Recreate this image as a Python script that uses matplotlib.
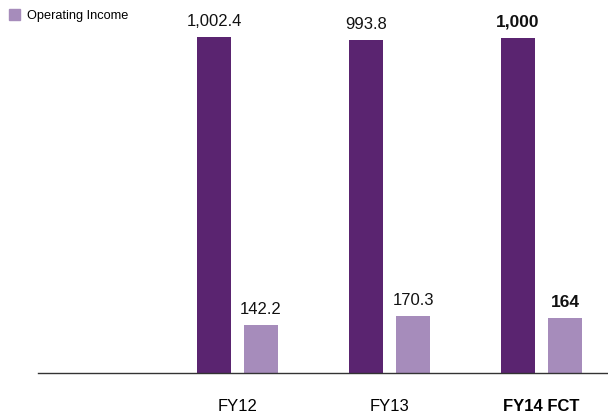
import matplotlib

matplotlib.use("Agg")
import matplotlib.pyplot as plt
from matplotlib.patches import Patch

plt.rcParams["font.family"] = ["Liberation Sans", "DejaVu Sans"]

years = ["FY12", "FY13", "FY14 FCT"]
net_sales = [1002.4, 993.8, 1000]
operating_income = [142.2, 170.3, 164]
sales_labels = ["1,002.4", "993.8", "1,000"]
income_labels = ["142.2", "170.3", "164"]
forecast = [False, False, True]

DARK = "#5a2470"
LIGHT = "#a68cbb"


def plot_bars():
    fig = plt.figure(figsize=(6.08, 4.17), dpi=100)
    ax = fig.add_axes([38 / 608, 44 / 417, 570 / 608, 373 / 417])
    xs = [1, 2, 3]
    width = 0.224
    offset = 0.155
    ax.bar([x - offset for x in xs], net_sales, width, color=DARK)
    ax.bar([x + offset for x in xs], operating_income, width, color=LIGHT)

    for x, v, lab, bold in zip(xs, net_sales, sales_labels, forecast):
        ax.annotate(lab, (x - offset, v), xytext=(0, 6), textcoords="offset points",
                    ha="center", va="bottom", fontsize=12.5 if bold else 12,
                    fontweight="bold" if bold else "normal", color="#111111")
    for x, v, lab, bold in zip(xs, operating_income, income_labels, forecast):
        ax.annotate(lab, (x + offset, v), xytext=(0, 6), textcoords="offset points",
                    ha="center", va="bottom", fontsize=12.5 if bold else 12,
                    fontweight="bold" if bold else "normal", color="#111111")

    ax.set_xlim(-0.3125, 3.4375)
    ax.set_ylim(0, 1113)
    for side in ["top", "right", "left"]:
        ax.spines[side].set_visible(False)
    ax.spines["bottom"].set_color("#333333")
    ax.spines["bottom"].set_linewidth(1)
    ax.set_yticks([])
    ax.set_xticks(xs)
    ax.set_xticklabels(years, fontsize=12)
    for tick, bold in zip(ax.get_xticklabels(), forecast):
        if bold:
            tick.set_fontweight("bold")
    ax.tick_params(axis="x", length=0, pad=19)

    fig.legend(handles=[Patch(color=LIGHT, label="Operating Income")],
               loc="upper left", bbox_to_anchor=(0.0, 1.0), frameon=False,
               fontsize=9.2, handlelength=0.9, handleheight=0.9,
               handletextpad=0.5, borderaxespad=0.3)
    fig.savefig("out.png", dpi=100)


if __name__ == "__main__":
    plot_bars()
